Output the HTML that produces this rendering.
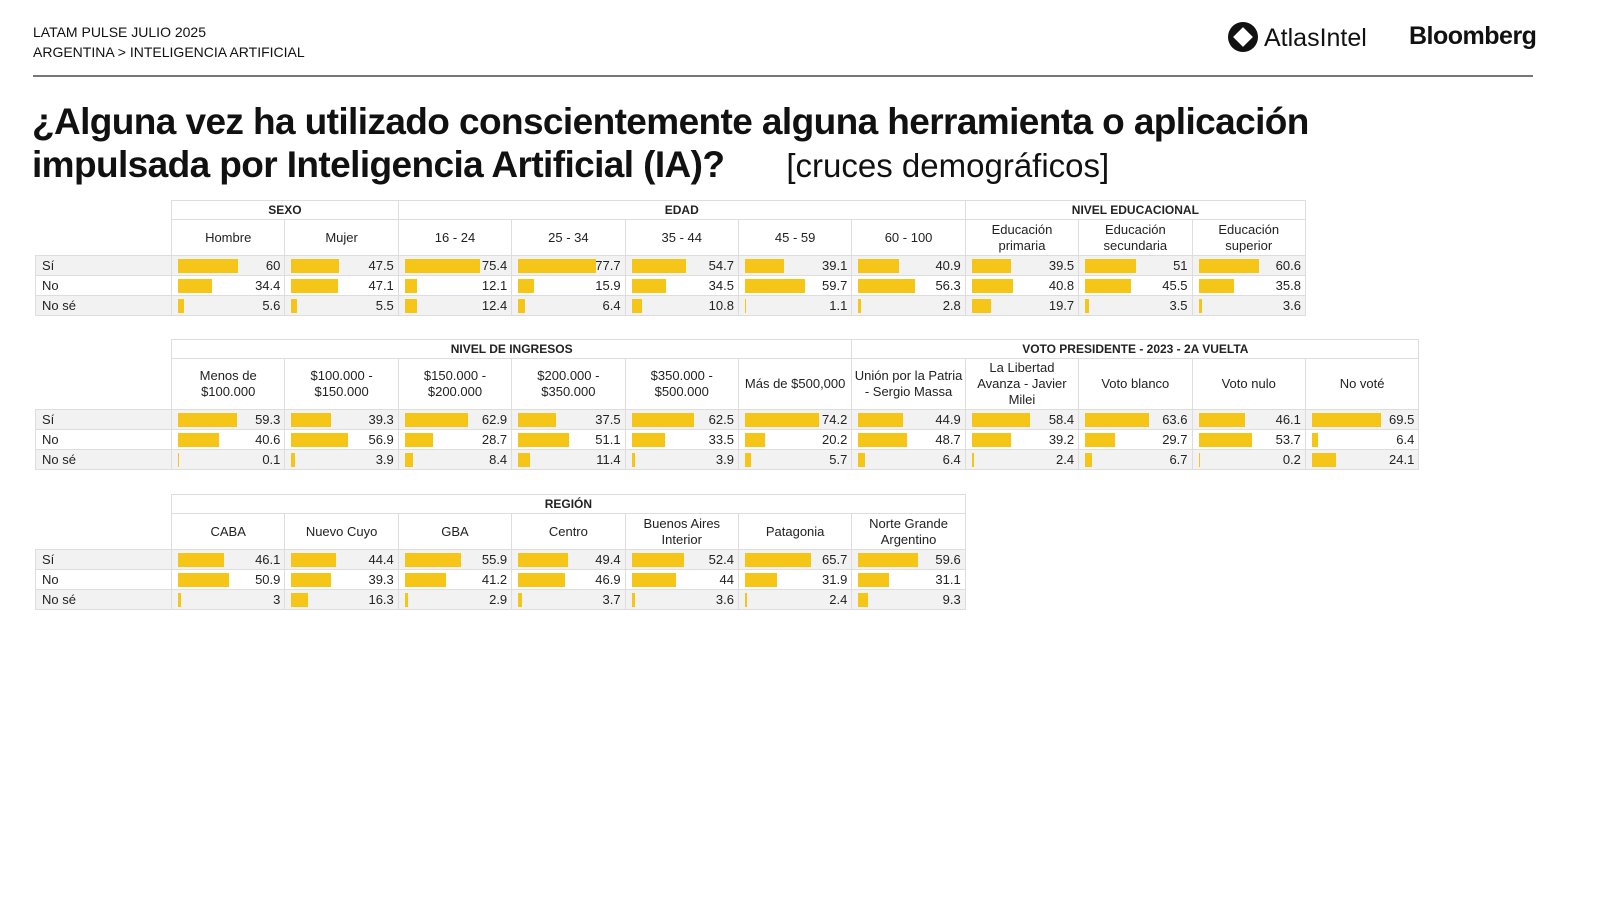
<!DOCTYPE html><html><head><meta charset="utf-8"><style>
body{margin:0;width:1600px;height:900px;background:#fff;font-family:"Liberation Sans",sans-serif;position:relative;overflow:hidden;color:#111}
.hd{position:absolute;left:33px;top:22px;font-size:14px;line-height:20px}
.hr{position:absolute;left:33px;top:75px;width:1500px;height:2px;background:#777}
.t1{position:absolute;left:32px;top:100px;font-size:37px;font-weight:bold;line-height:43px;letter-spacing:-0.6px}
.t1 span{font-weight:normal;font-size:33px;letter-spacing:0;margin-left:62px}
.logo{position:absolute;top:22px;font-size:25px}
table{position:absolute;border-collapse:collapse;table-layout:fixed;font-size:13px;color:#222}
td{border:1px solid #ddd;padding:0;height:20px;position:relative;text-align:right;padding-right:4px;box-sizing:border-box}
td.l{text-align:left;padding-left:6px}
tr.g td{background:#f2f2f2}
td.e{border:none;background:#fff!important}
.gh td{text-align:center;font-weight:bold;font-size:12px;height:19px;padding:0}
.sh td{text-align:center;padding:0;line-height:16px}
td i{position:absolute;left:6px;top:3px;height:14px;background:#f5c518}
</style></head><body>
<div class="hd">LATAM PULSE JULIO 2025<br>ARGENTINA &gt; INTELIGENCIA ARTIFICIAL</div>
<div class="logo" style="left:1228px"><span style="display:inline-block;width:30px;height:30px;border-radius:50%;background:#111;vertical-align:-6px;margin-right:6px;position:relative"><span style="position:absolute;left:8px;top:8px;width:14px;height:14px;background:#fff;transform:rotate(45deg)"></span></span>AtlasIntel</div>
<div class="logo" style="left:1409px;font-weight:bold;letter-spacing:-0.5px">Bloomberg</div>
<div class="hr"></div>
<div class="t1">¿Alguna vez ha utilizado conscientemente alguna herramienta o aplicación<br>impulsada por Inteligencia Artificial (IA)?<span>[cruces demográficos]</span></div>

<table style="left:35px;top:200px;width:1270px"><colgroup><col style="width:136px"><col span="10" style="width:113.4px"></colgroup>
<tr class="gh"><td class="e"></td><td colspan="2">SEXO</td><td colspan="5">EDAD</td><td colspan="3">NIVEL EDUCACIONAL</td></tr>
<tr class="sh" style="height:36px"><td class="e"></td><td>Hombre</td><td>Mujer</td><td>16 - 24</td><td>25 - 34</td><td>35 - 44</td><td>45 - 59</td><td>60 - 100</td><td>Educación<br>primaria</td><td>Educación<br>secundaria</td><td>Educación<br>superior</td></tr>
<tr class="g"><td class="l">Sí</td><td><i style="width:60px"></i>60</td><td><i style="width:47.5px"></i>47.5</td><td><i style="width:75.4px"></i>75.4</td><td><i style="width:77.7px"></i>77.7</td><td><i style="width:54.7px"></i>54.7</td><td><i style="width:39.1px"></i>39.1</td><td><i style="width:40.9px"></i>40.9</td><td><i style="width:39.5px"></i>39.5</td><td><i style="width:51px"></i>51</td><td><i style="width:60.6px"></i>60.6</td></tr>
<tr><td class="l">No</td><td><i style="width:34.4px"></i>34.4</td><td><i style="width:47.1px"></i>47.1</td><td><i style="width:12.1px"></i>12.1</td><td><i style="width:15.9px"></i>15.9</td><td><i style="width:34.5px"></i>34.5</td><td><i style="width:59.7px"></i>59.7</td><td><i style="width:56.3px"></i>56.3</td><td><i style="width:40.8px"></i>40.8</td><td><i style="width:45.5px"></i>45.5</td><td><i style="width:35.8px"></i>35.8</td></tr>
<tr class="g"><td class="l">No sé</td><td><i style="width:5.6px"></i>5.6</td><td><i style="width:5.5px"></i>5.5</td><td><i style="width:12.4px"></i>12.4</td><td><i style="width:6.4px"></i>6.4</td><td><i style="width:10.8px"></i>10.8</td><td><i style="width:1.1px"></i>1.1</td><td><i style="width:2.8px"></i>2.8</td><td><i style="width:19.7px"></i>19.7</td><td><i style="width:3.5px"></i>3.5</td><td><i style="width:3.6px"></i>3.6</td></tr>
</table>

<table style="left:35px;top:339px;width:1383px"><colgroup><col style="width:136px"><col span="11" style="width:113.4px"></colgroup>
<tr class="gh"><td class="e"></td><td colspan="6">NIVEL DE INGRESOS</td><td colspan="5">VOTO PRESIDENTE - 2023 - 2A VUELTA</td></tr>
<tr class="sh" style="height:51px"><td class="e"></td><td>Menos de<br>$100.000</td><td>$100.000 -<br>$150.000</td><td>$150.000 -<br>$200.000</td><td>$200.000 -<br>$350.000</td><td>$350.000 -<br>$500.000</td><td>Más de $500,000</td><td>Unión por la Patria<br>- Sergio Massa</td><td>La Libertad<br>Avanza - Javier<br>Milei</td><td>Voto blanco</td><td>Voto nulo</td><td>No voté</td></tr>
<tr class="g"><td class="l">Sí</td><td><i style="width:59.3px"></i>59.3</td><td><i style="width:39.3px"></i>39.3</td><td><i style="width:62.9px"></i>62.9</td><td><i style="width:37.5px"></i>37.5</td><td><i style="width:62.5px"></i>62.5</td><td><i style="width:74.2px"></i>74.2</td><td><i style="width:44.9px"></i>44.9</td><td><i style="width:58.4px"></i>58.4</td><td><i style="width:63.6px"></i>63.6</td><td><i style="width:46.1px"></i>46.1</td><td><i style="width:69.5px"></i>69.5</td></tr>
<tr><td class="l">No</td><td><i style="width:40.6px"></i>40.6</td><td><i style="width:56.9px"></i>56.9</td><td><i style="width:28.7px"></i>28.7</td><td><i style="width:51.1px"></i>51.1</td><td><i style="width:33.5px"></i>33.5</td><td><i style="width:20.2px"></i>20.2</td><td><i style="width:48.7px"></i>48.7</td><td><i style="width:39.2px"></i>39.2</td><td><i style="width:29.7px"></i>29.7</td><td><i style="width:53.7px"></i>53.7</td><td><i style="width:6.4px"></i>6.4</td></tr>
<tr class="g"><td class="l">No sé</td><td><i style="width:0.1px"></i>0.1</td><td><i style="width:3.9px"></i>3.9</td><td><i style="width:8.4px"></i>8.4</td><td><i style="width:11.4px"></i>11.4</td><td><i style="width:3.9px"></i>3.9</td><td><i style="width:5.7px"></i>5.7</td><td><i style="width:6.4px"></i>6.4</td><td><i style="width:2.4px"></i>2.4</td><td><i style="width:6.7px"></i>6.7</td><td><i style="width:0.2px"></i>0.2</td><td><i style="width:24.1px"></i>24.1</td></tr>
</table>

<table style="left:35px;top:494px;width:930px"><colgroup><col style="width:136px"><col span="7" style="width:113.4px"></colgroup>
<tr class="gh"><td class="e"></td><td colspan="7">REGIÓN</td></tr>
<tr class="sh" style="height:36px"><td class="e"></td><td>CABA</td><td>Nuevo Cuyo</td><td>GBA</td><td>Centro</td><td>Buenos Aires<br>Interior</td><td>Patagonia</td><td>Norte Grande<br>Argentino</td></tr>
<tr class="g"><td class="l">Sí</td><td><i style="width:46.1px"></i>46.1</td><td><i style="width:44.4px"></i>44.4</td><td><i style="width:55.9px"></i>55.9</td><td><i style="width:49.4px"></i>49.4</td><td><i style="width:52.4px"></i>52.4</td><td><i style="width:65.7px"></i>65.7</td><td><i style="width:59.6px"></i>59.6</td></tr>
<tr><td class="l">No</td><td><i style="width:50.9px"></i>50.9</td><td><i style="width:39.3px"></i>39.3</td><td><i style="width:41.2px"></i>41.2</td><td><i style="width:46.9px"></i>46.9</td><td><i style="width:44px"></i>44</td><td><i style="width:31.9px"></i>31.9</td><td><i style="width:31.1px"></i>31.1</td></tr>
<tr class="g"><td class="l">No sé</td><td><i style="width:3px"></i>3</td><td><i style="width:16.3px"></i>16.3</td><td><i style="width:2.9px"></i>2.9</td><td><i style="width:3.7px"></i>3.7</td><td><i style="width:3.6px"></i>3.6</td><td><i style="width:2.4px"></i>2.4</td><td><i style="width:9.3px"></i>9.3</td></tr>
</table>
</body></html>
